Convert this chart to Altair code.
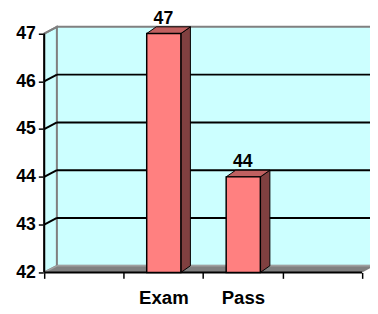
import altair as alt
import pandas as pd

# ---- data ----
axis_categories = ["", "Exam", "Pass", ""]   # four bands on the category axis
categories = ["Exam", "Pass"]
values = [47, 44]
y_ticks = [42, 43, 44, 45, 46, 47]
grid_values = [43, 44, 45, 46]

# ---- 3-D styling constants (in data units) ----
BASE, TOP = 42, 47
DXW, DYW = 0.16, 0.14      # depth of walls
DXB, DYB = 0.12, 0.14      # depth of bars
BAR_L, BAR_R = 0.29, 0.72  # bar front face inside its band
X_MAX, Y_MAX = 4.1, 47.2
N = len(axis_categories)

FONT = "Liberation Sans"
WALL = "#CCFFFF"
EDGE = "#808080"
FRONT = "#FF8080"
SIDE = "#804040"
TOPC = "#C06060"

xs = alt.Scale(domain=[0, X_MAX], nice=False, zero=False)
ys = alt.Scale(domain=[BASE, Y_MAX], nice=False, zero=False)

centers = {i + 0.5: c for i, c in enumerate(axis_categories) if c}
label_expr = "".join(f"datum.value == {k} ? '{v}' : " for k, v in centers.items()) + "''"
x_vals = list(range(N + 1)) + list(centers.keys())

x_axis = alt.Axis(
    values=x_vals, labelExpr=label_expr, title=None, domain=False, grid=False,
    tickColor="black", tickWidth=1.5, tickSize=6,
    tickOpacity={"condition": {"test": "datum.value % 1 != 0", "value": 0}, "value": 1},
    labelFont=FONT, labelFontSize=19, labelFontWeight="bold", labelColor="black",
    labelPadding=11, labelFlush=False, labelOverlap=False,
)
y_axis = alt.Axis(
    values=y_ticks, title=None, domain=False, grid=False,
    tickColor="black", tickWidth=1.5, tickSize=6,
    labelFont=FONT, labelFontSize=18, labelFontWeight="bold", labelColor="black",
    labelPadding=3,
)


def X(f="x"):
    return alt.X(f"{f}:Q", scale=xs, axis=x_axis)


def Y(f="y"):
    return alt.Y(f"{f}:Q", scale=ys, axis=y_axis)


# left wall (parallelogram)
left_wall = pd.DataFrame({"x": [0, DXW], "y": [BASE, BASE + DYW], "y2": [TOP, TOP + DYW]})
# back wall
back_wall = pd.DataFrame({"x": [DXW], "x2": [N + DXW], "y": [BASE + DYW], "y2": [TOP + DYW]})
# floor
floor = pd.DataFrame({"y": [BASE, BASE + DYW], "x": [0, DXW], "x2": [N, N + DXW]})

# grid lines on back wall and their diagonals on the left wall
g_rows = []
for v in grid_values:
    g_rows.append({"x": DXW, "x2": N + DXW, "y": v + DYW, "y2": v + DYW})
    g_rows.append({"x": 0, "x2": DXW, "y": v, "y2": v + DYW})
grid = pd.DataFrame(g_rows)
top_edge = pd.DataFrame([{"x": 0, "x2": DXW, "y": TOP, "y2": TOP + DYW}])
floor_edge = pd.DataFrame([
    {"x": 0, "x2": DXW, "y": BASE, "y2": BASE + DYW},
    {"x": DXW, "x2": N + DXW, "y": BASE + DYW, "y2": BASE + DYW},
])

axis_lines = pd.DataFrame([
    {"x": 0, "x2": 0, "y": BASE, "y2": TOP},
    {"x": 0, "x2": N, "y": BASE, "y2": BASE},
])

# bars
side_rows, top_rows, front_rows, label_rows = [], [], [], []
for c, v in zip(categories, values):
    i = axis_categories.index(c)
    side_rows += [
        {"cat": c, "x": i + BAR_R, "y": BASE, "y2": v},
        {"cat": c, "x": i + BAR_R + DXB, "y": BASE + DYB, "y2": v + DYB},
    ]
    top_rows += [
        {"cat": c, "y": v, "x": i + BAR_L, "x2": i + BAR_R},
        {"cat": c, "y": v + DYB, "x": i + BAR_L + DXB, "x2": i + BAR_R + DXB},
    ]
    front_rows.append({"cat": c, "x": i + BAR_L, "x2": i + BAR_R, "y": BASE, "y2": v})
    label_rows.append({"cat": c, "x": i + 0.5, "y": v + DYB, "label": str(v)})

side = pd.DataFrame(side_rows)
topf = pd.DataFrame(top_rows)
front = pd.DataFrame(front_rows)
labels = pd.DataFrame(label_rows)

layers = [
    alt.Chart(left_wall).mark_area(orient="vertical", fill=WALL, stroke=EDGE, strokeWidth=2)
    .encode(x=X(), y=Y(), y2="y2"),
    alt.Chart(back_wall).mark_rect(fill=WALL, stroke=EDGE, strokeWidth=2)
    .encode(x=X(), x2="x2", y=Y(), y2="y2"),
    alt.Chart(grid).mark_rule(color="black", strokeWidth=2)
    .encode(x=X(), x2="x2", y=Y(), y2="y2"),
    alt.Chart(top_edge).mark_rule(color=EDGE, strokeWidth=2)
    .encode(x=X(), x2="x2", y=Y(), y2="y2"),
    alt.Chart(floor).mark_area(orient="horizontal", fill="#808080")
    .encode(y=Y(), x=X(), x2="x2"),
    alt.Chart(floor_edge).mark_rule(color="#A0A0A0", strokeWidth=1.5)
    .encode(x=X(), x2="x2", y=Y(), y2="y2"),
    alt.Chart(axis_lines).mark_rule(color="black", strokeWidth=2)
    .encode(x=X(), x2="x2", y=Y(), y2="y2"),
    alt.Chart(side).mark_area(orient="vertical", fill=SIDE, stroke="black", strokeWidth=1)
    .encode(x=X(), y=Y(), y2="y2", detail="cat:N"),
    alt.Chart(topf).mark_area(orient="horizontal", fill=TOPC, stroke="black", strokeWidth=1)
    .encode(y=Y(), x=X(), x2="x2", detail="cat:N"),
    alt.Chart(front).mark_rect(fill=FRONT, stroke="black", strokeWidth=1.5)
    .encode(x=X(), x2="x2", y=Y(), y2="y2"),
    alt.Chart(labels).mark_text(font=FONT, fontSize=18, fontWeight="bold", color="black",
                                baseline="alphabetic", dy=-3)
    .encode(x=X(), y=Y(), text="label:N"),
]

chart = (
    alt.layer(*layers)
    .properties(
        width=333, height=254,
        autosize=alt.AutoSizeParams(type="none"),
        padding={"left": 37, "top": 13, "right": 0, "bottom": 33},
    )
    .configure_view(stroke=None)
)

chart.save("out.html", embed_options={"renderer": "svg", "actions": False})
